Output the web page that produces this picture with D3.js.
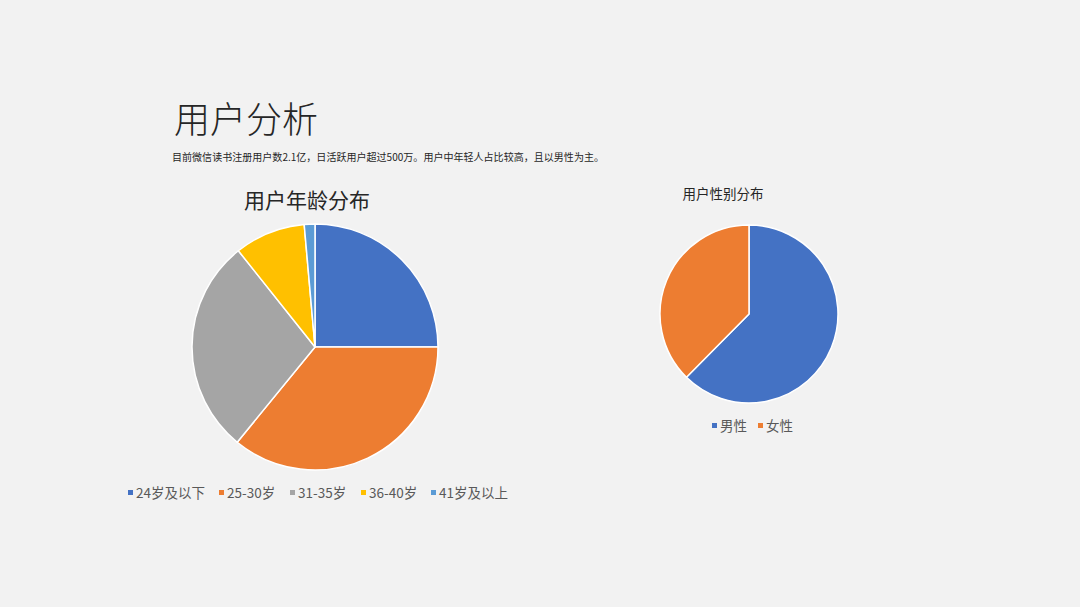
<!DOCTYPE html>
<html lang="zh">
<head>
<meta charset="UTF-8">
<script src="https://d3js.org/d3.v7.min.js"></script>
<title>用户分析</title>
<style>
  html, body { margin: 0; padding: 0; background: #f2f2f2; }
  svg { display: block; font-family: "Noto Sans CJK SC", "Noto Sans", sans-serif; }
</style>
</head>
<body>
<div id="chart"></div>
<script>
// age distribution (percent)
var ageGroups = ["24岁及以下", "25-30岁", "31-35岁", "36-40岁", "41岁及以上"];
var ageValues = [25, 35.9, 28.4, 9.3, 1.4];
var ageColors = ["#4472C4", "#ED7D31", "#A5A5A5", "#FFC000", "#5B9BD5"];

// gender distribution
var genderGroups = ["男性", "女性"];
var genderValues = [62.4, 37.6];
var genderColors = ["#4472C4", "#ED7D31"];

var width = 1080, height = 607;

var svg = d3.select("#chart")
  .append("svg")
    .attr("width", width)
    .attr("height", height);

svg.append("rect")
  .attr("width", width)
  .attr("height", height)
  .attr("fill", "#f2f2f2");

// page heading
svg.append("text")
  .attr("x", 174)
  .attr("y", 133)
  .attr("font-size", 36)
  .attr("font-weight", 300)
  .attr("fill", "#262626")
  .text("用户分析");

svg.append("text")
  .attr("x", 172)
  .attr("y", 161)
  .attr("font-size", 10)
  .attr("fill", "#262626")
  .attr("textLength", 432)
  .attr("lengthAdjust", "spacingAndGlyphs")
  .text("目前微信读书注册用户数2.1亿，日活跃用户超过500万。用户中年轻人占比较高，且以男性为主。");

// draw one pie with its title and legend
function drawPie(opts) {
  var color = d3.scaleOrdinal().domain(opts.groups).range(opts.colors);

  var pie = d3.pie()
    .sort(null)
    .value(function(d, i) { return opts.values[i]; });

  var arc = d3.arc()
    .innerRadius(0)
    .outerRadius(opts.r);

  var g = svg.append("g")
    .attr("transform", "translate(" + opts.cx + "," + opts.cy + ")");

  g.selectAll("path")
    .data(pie(opts.groups))
    .enter()
    .append("path")
      .attr("d", arc)
      .attr("fill", function(d) { return color(d.data); })
      .attr("stroke", "#ffffff")
      .attr("stroke-width", 1.5)
      .attr("stroke-linejoin", "round");

  svg.append("text")
    .attr("x", opts.titleX)
    .attr("y", opts.titleY)
    .attr("text-anchor", "middle")
    .attr("font-size", opts.titleSize)
    .attr("fill", "#262626")
    .text(opts.title);

  // legend
  var leg = svg.append("g")
    .selectAll("g")
    .data(opts.groups)
    .enter()
    .append("g")
      .attr("transform", function(d, i) {
        return "translate(" + opts.legendX[i] + "," + opts.legendY + ")";
      });

  leg.append("rect")
    .attr("x", 0)
    .attr("y", -3)
    .attr("width", 5)
    .attr("height", 5)
    .attr("fill", function(d) { return color(d); });

  leg.append("text")
    .attr("x", 8)
    .attr("y", 0)
    .attr("dy", "0.36em")
    .attr("font-size", opts.legendSize)
    .attr("fill", "#595959")
    .text(function(d) { return d; });
}

drawPie({
  groups: ageGroups, values: ageValues, colors: ageColors,
  cx: 315, cy: 347, r: 123,
  title: "用户年龄分布", titleX: 307, titleY: 208, titleSize: 21,
  legendX: [128, 219, 290, 361, 431], legendY: 493, legendSize: 13.5
});

drawPie({
  groups: genderGroups, values: genderValues, colors: genderColors,
  cx: 749, cy: 314, r: 89,
  title: "用户性别分布", titleX: 723, titleY: 199, titleSize: 13.5,
  legendX: [712, 758], legendY: 426, legendSize: 13.5
});
</script>
</body>
</html>
